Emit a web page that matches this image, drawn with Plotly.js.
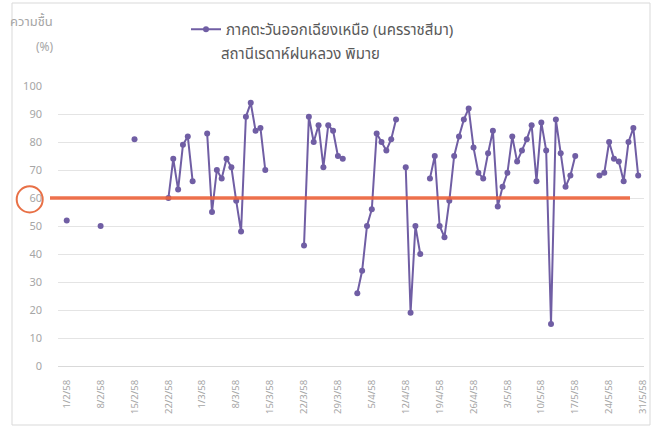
<!DOCTYPE html>
<html>
<head>
<meta charset="utf-8">
<script src="https://cdn.plot.ly/plotly-3.0.1.min.js"></script>
<style>
html,body{margin:0;padding:0;background:#fff;}
#chart{width:656px;height:430px;}
</style>
</head>
<body>
<div id="chart"></div>
<script>
// Category labels: every day from 1/2/58 to 31/5/58
var days = [
 "1/2/58","2/2/58","3/2/58","4/2/58","5/2/58","6/2/58","7/2/58","8/2/58","9/2/58","10/2/58",
 "11/2/58","12/2/58","13/2/58","14/2/58","15/2/58","16/2/58","17/2/58","18/2/58","19/2/58","20/2/58",
 "21/2/58","22/2/58","23/2/58","24/2/58","25/2/58","26/2/58","27/2/58","28/2/58",
 "1/3/58","2/3/58","3/3/58","4/3/58","5/3/58","6/3/58","7/3/58","8/3/58","9/3/58","10/3/58",
 "11/3/58","12/3/58","13/3/58","14/3/58","15/3/58","16/3/58","17/3/58","18/3/58","19/3/58","20/3/58",
 "21/3/58","22/3/58","23/3/58","24/3/58","25/3/58","26/3/58","27/3/58","28/3/58","29/3/58","30/3/58","31/3/58",
 "1/4/58","2/4/58","3/4/58","4/4/58","5/4/58","6/4/58","7/4/58","8/4/58","9/4/58","10/4/58",
 "11/4/58","12/4/58","13/4/58","14/4/58","15/4/58","16/4/58","17/4/58","18/4/58","19/4/58","20/4/58",
 "21/4/58","22/4/58","23/4/58","24/4/58","25/4/58","26/4/58","27/4/58","28/4/58","29/4/58","30/4/58",
 "1/5/58","2/5/58","3/5/58","4/5/58","5/5/58","6/5/58","7/5/58","8/5/58","9/5/58","10/5/58",
 "11/5/58","12/5/58","13/5/58","14/5/58","15/5/58","16/5/58","17/5/58","18/5/58","19/5/58","20/5/58",
 "21/5/58","22/5/58","23/5/58","24/5/58","25/5/58","26/5/58","27/5/58","28/5/58","29/5/58","30/5/58","31/5/58"
];

// Relative humidity (%), null = no data
var humidity = [
 52,null,null,null,null,null,null,50,null,null,
 null,null,null,null,81,null,null,null,null,null,
 null,60,74,63,79,82,66,null,
 null,83,55,70,67,74,71,59,48,89,
 94,84,85,70,null,null,null,null,null,null,
 null,43,89,80,86,71,86,84,75,74,null,
 null,26,34,50,56,83,80,77,81,88,
 null,71,19,50,40,null,67,75,50,46,
 59,75,82,88,92,78,69,67,76,84,
 57,64,69,82,73,77,81,86,66,87,
 77,15,88,76,64,68,75,null,null,null,
 null,68,69,80,74,73,66,80,85,68,null
];

var tickLabels = ["1/2/58","8/2/58","15/2/58","22/2/58","1/3/58","8/3/58","15/3/58","22/3/58","29/3/58",
 "5/4/58","12/4/58","19/4/58","26/4/58","3/5/58","10/5/58","17/5/58","24/5/58","31/5/58"];
var yTicks = [0,10,20,30,40,50,60,70,80,90,100];

var seriesName = "ภาคตะวันออกเฉียงเหนือ (นครราชสีมา)";
var subTitle = "สถานีเรดาห์ฝนหลวง พิมาย";
var yLabel1 = "ความชื้น";
var yLabel2 = "(%)";
var threshold = 60;

var thaiFont = "'Noto Sans Thai', 'Noto Sans', Tahoma, sans-serif";
var purple = "rgb(112,94,164)";

var trace = {
  x: days,
  y: humidity,
  type: "scatter",
  mode: "lines+markers",
  name: seriesName,
  connectgaps: false,
  line: {color: purple, width: 2},
  marker: {color: purple, size: 6},
  hoverinfo: "x+y"
};

var W = 656, H = 430, ml = 58, mr = 12, mt = 86, mb = 64;
var pw = W - ml - mr, ph = H - mt - mb;
function px(x){ return (x - ml) / pw; }
function py(y){ return (H - mb - y) / ph; }

var layout = {
  width: W, height: H,
  margin: {l: ml, r: mr, t: mt, b: mb, pad: 0},
  paper_bgcolor: "#ffffff",
  plot_bgcolor: "#ffffff",
  font: {family: thaiFont, color: "#595959"},
  showlegend: true,
  legend: {
    x: px(186), y: py(13), xanchor: "left", yanchor: "top",
    bgcolor: "rgba(0,0,0,0)",
    font: {size: 15, color: "#595959", family: thaiFont},
    itemwidth: 30
  },
  xaxis: {
    type: "category",
    range: [-1.8, 119.2],
    tickmode: "array",
    tickvals: tickLabels,
    ticktext: tickLabels,
    tickangle: -90,
    ticks: "",
    ticklabelstandoff: 9,
    tickfont: {size: 9.5, color: "#a6a6a6", family: thaiFont},
    showgrid: false,
    showline: true,
    linecolor: "#d9d9d9",
    linewidth: 1,
    zeroline: false,
    fixedrange: true
  },
  yaxis: {
    range: [0, 100],
    tickmode: "array",
    tickvals: yTicks,
    ticks: "",
    ticklabelstandoff: 15,
    tickfont: {size: 11, color: "#a6a6a6", family: thaiFont},
    showgrid: true,
    gridcolor: "#e4e4e4",
    gridwidth: 1,
    zeroline: false,
    showline: false,
    fixedrange: true
  },
  annotations: [
    {text: subTitle, xref: "paper", yref: "paper", x: px(300), y: py(55), xanchor: "center", yanchor: "middle",
     showarrow: false, font: {size: 15, color: "#595959", family: thaiFont}},
    {text: yLabel1, xref: "paper", yref: "paper", x: px(31), y: py(22), xanchor: "center", yanchor: "middle",
     showarrow: false, font: {size: 13, color: "#a6a6a6", family: thaiFont}},
    {text: yLabel2, xref: "paper", yref: "paper", x: px(45), y: py(47), xanchor: "center", yanchor: "middle",
     showarrow: false, font: {size: 12, color: "#a6a6a6", family: thaiFont}}
  ],
  shapes: [
    // outer chart frame
    {type: "rect", xref: "paper", yref: "paper", x0: px(12), x1: px(650), y0: py(425), y1: py(3),
     line: {color: "#d9d9d9", width: 1}, fillcolor: "rgba(0,0,0,0)", layer: "below"},
    // threshold line
    {type: "line", xref: "paper", yref: "paper", x0: px(50), x1: px(630), y0: threshold / 100, y1: threshold / 100,
     line: {color: "rgba(236,98,58,0.9)", width: 3.5}, layer: "above"},
    // circle round the 60 label
    {type: "circle", xref: "paper", yref: "paper", x0: px(16.7), x1: px(42.7), y0: py(212.5), y1: py(186.3),
     line: {color: "rgb(232,112,70)", width: 2}, fillcolor: "rgba(0,0,0,0)"}
  ]
};

Plotly.newPlot("chart", [trace], layout, {displayModeBar: false, staticPlot: true});
</script>
</body>
</html>
